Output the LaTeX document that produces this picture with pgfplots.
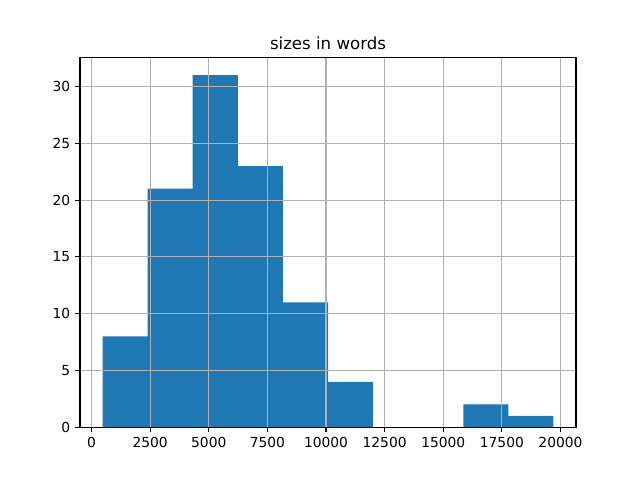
\documentclass[border=0pt]{standalone}
\usepackage{fontspec}
\setmainfont{DejaVu Sans}
\usepackage{pgfplots}
\pgfplotsset{compat=1.18}
\definecolor{histblue}{HTML}{1F77B4}
\definecolor{gridgray}{HTML}{B0B0B0}

\begin{document}
\begin{tikzpicture}
\begin{axis}[
  scale only axis,
  width=4.96in,
  height=3.696in,
  xmin=-491, xmax=20661,
  ymin=0, ymax=32.55,
  xtick={0,2500,5000,7500,10000,12500,15000,17500,20000},
  ytick={0,5,10,15,20,25,30},
  /pgf/number format/assume math mode=true,
  /pgf/number format/set thousands separator={},
  scaled x ticks=false,
  tick align=outside,
  tick pos=left,
  major tick length=3.5pt,
  every tick/.style={black, line width=0.8pt},
  axis line style={line width=0.8pt},
  grid=major,
  major grid style={gridgray, line width=0.8pt},
  axis on top,
  ticklabel style={font=\fontsize{10}{12}\selectfont},
  title={sizes in words},
  title style={font=\fontsize{12}{14}\selectfont, yshift=-4pt},
]
\addplot[ybar interval, fill=histblue, draw=none] coordinates {
  (470,8) (2393,21) (4316,31) (6239,23) (8162,11) (10085,4)
  (12008,0) (13931,0) (15854,2) (17777,1) (19700,1)
};
\end{axis}
\path ([shift={(-0.8in,-0.528in)}]current axis.south west) rectangle ([shift={(0.64in,0.576in)}]current axis.north east);
\end{tikzpicture}
\end{document}
